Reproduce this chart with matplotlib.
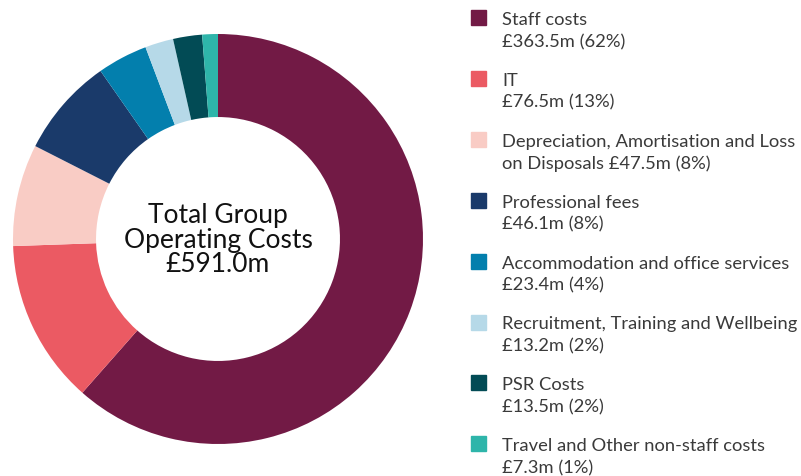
import matplotlib
matplotlib.use("Agg")
import matplotlib.pyplot as plt
from matplotlib.patches import Rectangle

plt.rcParams['font.family'] = ['Lato', 'DejaVu Sans']

categories = ['Staff costs', 'IT', 'Depreciation, Amortisation and Loss\non Disposals',
              'Professional fees', 'Accommodation and office services',
              'Recruitment, Training and Wellbeing', 'PSR Costs',
              'Travel and Other non-staff costs']
values = [363.5, 76.5, 47.5, 46.1, 23.4, 13.2, 13.5, 7.3]
pcts = [62, 13, 8, 8, 4, 2, 2, 1]
colors = ['#721A45', '#EB5A63', '#F9CCC5', '#1A3A6A', '#037FAD', '#B6D9E8', '#024B55', '#2EB5AA']
total = 591.0

W, H = 801, 477
fig = plt.figure(figsize=(W / 100, H / 100), dpi=100)

def fx(x):
    return x / W

def fy(y):
    return 1 - y / H

# donut: centre (218, 240), radius 205 px
cx, cy, r = 218, 240, 205
ax = fig.add_axes([fx(cx - r), fy(cy + r), 2 * r / W, 2 * r / H])
ax.pie(values, colors=colors, startangle=90, counterclock=False,
       radius=1, wedgeprops=dict(width=0.405, linewidth=0))
ax.set_xlim(-1, 1)
ax.set_ylim(-1, 1)
ax.set_aspect('auto')
ax.axis('off')

centre_lines = ['Total Group', 'Operating Costs', '£{:.1f}m'.format(total)]
for line, base in zip(centre_lines, [223, 248, 272]):
    fig.text(fx(cx), fy(base), line, ha='center', va='baseline',
             fontsize=19, color='#111111')

# legend
top0, step = 11, 60.9
for i, (cat, v, p, c) in enumerate(zip(categories, values, pcts, colors)):
    top = top0 + i * step
    fig.patches.append(Rectangle((fx(471), fy(top + 15)), 15 / W, 15 / H,
                                 transform=fig.transFigure, color=c))
    if '\n' in cat:
        l1, l2 = cat.split('\n')
        l2 = '{} £{:.1f}m ({}%)'.format(l2, v, p)
    else:
        l1 = cat
        l2 = '£{:.1f}m ({}%)'.format(v, p)
    fig.text(fx(502), fy(top + 14), l1, ha='left', va='baseline',
             fontsize=13.2, color='#3a3a3a')
    fig.text(fx(502), fy(top + 36), l2, ha='left', va='baseline',
             fontsize=13.2, color='#3a3a3a')

fig.savefig('out.png', dpi=100)
